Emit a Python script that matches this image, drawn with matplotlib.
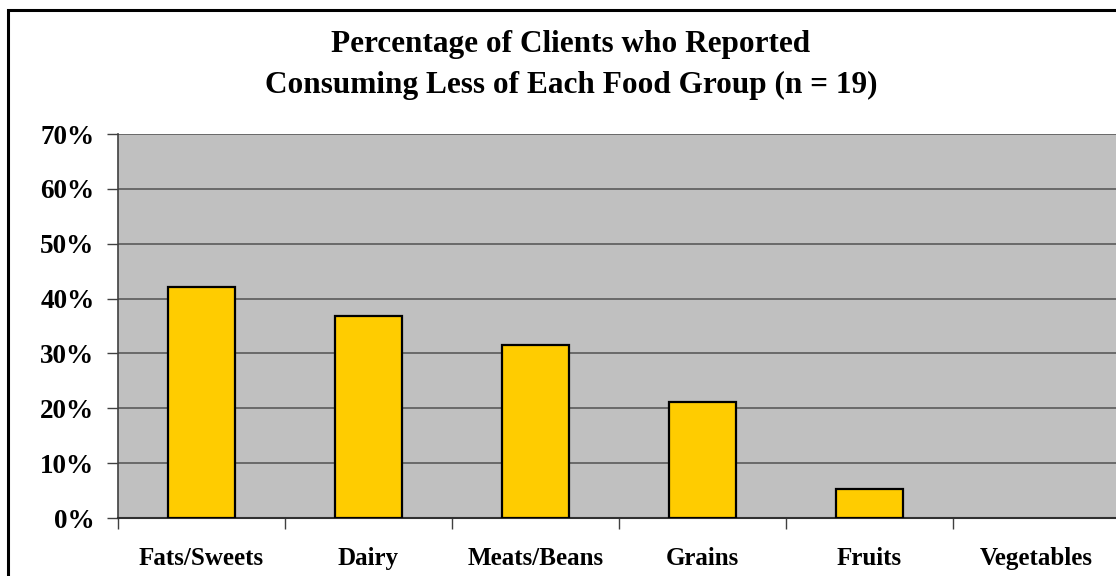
import matplotlib
matplotlib.use("Agg")
import matplotlib.pyplot as plt
from matplotlib.patches import Rectangle
from matplotlib.ticker import FixedLocator, PercentFormatter

categories = ["Fats/Sweets", "Dairy", "Meats/Beans", "Grains", "Fruits", "Vegetables"]
values = [42.1, 36.8, 31.6, 21.1, 5.3, 0.0]
yticks = [0, 10, 20, 30, 40, 50, 60, 70]
title = "Percentage of Clients who Reported\nConsuming Less of Each Food Group (n = 19)"

plt.rcParams['font.family'] = ['Liberation Serif', 'DejaVu Serif']
plt.rcParams['font.weight'] = 'bold'

fig = plt.figure(figsize=(11.16, 5.76), dpi=100)
W, H = 1116, 576
ax = fig.add_axes([118 / W, 1 - 518 / H, (1120 - 118) / W, (518 - 134) / H])
ax.set_facecolor('#C0C0C0')

# figure frame
fig.patches.append(Rectangle((8 / W, -0.1), 1.2, 1 - 10 / H + 0.1, transform=fig.transFigure,
                             fill=False, edgecolor='black', linewidth=2.2, clip_on=False))

xs = [i + 0.5 for i in range(len(categories))]
edges = ['black' if v > 0 else 'none' for v in values]
ax.bar(xs, values, width=0.4, color='#FFCC00', edgecolor=edges, linewidth=1.6, zorder=3)

ax.set_xlim(0, len(categories))
ax.set_ylim(0, 70)
ax.set_yticks(yticks)
ax.yaxis.set_major_formatter(PercentFormatter(decimals=0))
ax.yaxis.grid(True, color='#5a5a5a', linewidth=1.2, zorder=1)
ax.set_axisbelow(True)

ax.xaxis.set_major_locator(FixedLocator(list(range(len(categories) + 1))))
ax.set_xticklabels([])
ax.xaxis.set_minor_locator(FixedLocator(xs))
ax.set_xticklabels(categories, minor=True)
ax.tick_params(axis='x', which='minor', length=0, pad=21, labelsize=18)
ax.tick_params(axis='x', which='major', length=8, width=1, color='#404040', direction='out')
ax.tick_params(axis='y', length=8, width=1, color='#404040', pad=9, labelsize=19.5)

for lab in ax.get_xticklabels(minor=True) + ax.get_yticklabels():
    lab.set_fontweight('bold')

ax.spines['top'].set_visible(False)
ax.spines['right'].set_visible(False)
ax.spines['left'].set_color('#404040')
ax.spines['left'].set_linewidth(1.2)
ax.spines['bottom'].set_color('#303030')
ax.spines['bottom'].set_linewidth(1.5)

fig.text(571 / W, 1 - 65 / H, title, ha='center', va='center',
         fontsize=22.5, fontweight='bold', linespacing=1.55)

fig.savefig("out.png", dpi=100)
